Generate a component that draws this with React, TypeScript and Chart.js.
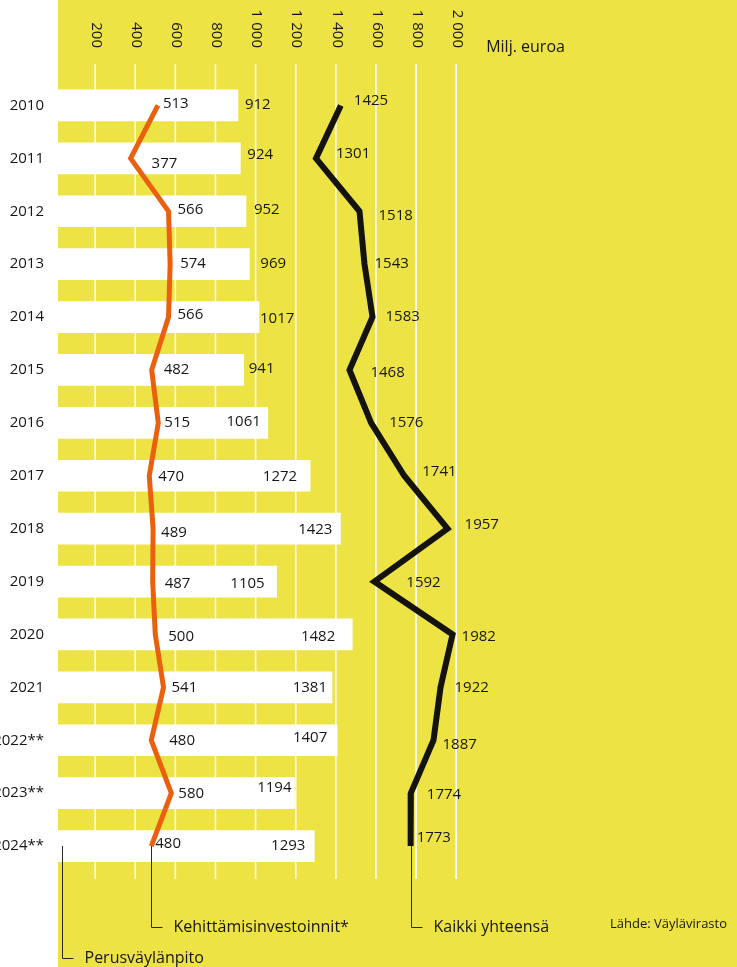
import React, { useEffect, useRef } from 'react';
import { Chart, registerables } from 'chart.js';

Chart.register(...registerables);

// ---- data ----
const years = ['2010', '2011', '2012', '2013', '2014', '2015', '2016', '2017', '2018', '2019', '2020', '2021', '2022**', '2023**', '2024**'];
const perusvaylanpito = [912, 924, 952, 969, 1017, 941, 1061, 1272, 1423, 1105, 1482, 1381, 1407, 1194, 1293];
const kehittamisinvestoinnit = [513, 377, 566, 574, 566, 482, 515, 470, 489, 487, 500, 541, 480, 580, 480];
const kaikkiYhteensa = [1425, 1301, 1518, 1543, 1583, 1468, 1576, 1741, 1957, 1592, 1982, 1922, 1887, 1774, 1773];
const gridValues = [200, 400, 600, 800, 1000, 1200, 1400, 1600, 1800, 2000];
const gridLabels = ['200', '400', '600', '800', '1 000', '1 200', '1 400', '1 600', '1 800', '2 000'];
const unitLabel = 'Milj. euroa';
const sourceLabel = 'Lähde: Väylävirasto';
const seriesNames = ['Perusväylänpito', 'Kehittämisinvestoinnit*', 'Kaikki yhteensä'];

// ---- label placement (styling, px offsets from the mark) ----
const barLabelDx = [7, 7, 8, 11, 1, 5, -7, -13, -8, -12, -17, -5, -10, -3, -9];
const barLabelDy = [-1, -4, -2, 0, 2, -1, -1, 1, 1, 2, 2, 0, -3, -5, 0];
const orangeLabelDx = [5, 21, 9, 10, 9, 12, 6, 9, 8, 12, 13, 8, 18, 7, 4];
const orangeLabelDy = [-2, 5, -2, 0, -2, 0, 0, 1, 4, 2, 2, 0, 0, 1, -2];
const blackLabelDx = [13, 20, 19, 10, 13, 21, 18, 18, 17, 32, 9, 14, 9, 16, 6];
const blackLabelDy = [-5, -5, 4, 0, 0, 3, 0, -4, -4, 1, 2, 0, 4, 2, -8];

const YELLOW = '#EEE345';
const ORANGE = '#EA600E';
const BLACK = '#15130F';
const TEXT = '#161616';
const FONT = '"Open Sans", "Noto Sans", sans-serif';

const bgPlugin = {
  id: 'bgPlugin',
  beforeDraw(chart: any) {
    const ctx = chart.ctx;
    const xs = chart.scales.x;
    ctx.save();
    ctx.fillStyle = '#ffffff';
    ctx.fillRect(0, 0, chart.width, chart.height);
    ctx.fillStyle = YELLOW;
    const left = xs.getPixelForValue(0) + 3;
    ctx.fillRect(left, 0, chart.width - left, chart.height);
    ctx.restore();
  },
};

const gridPlugin = {
  id: 'gridPlugin',
  beforeDatasetsDraw(chart: any) {
    const ctx = chart.ctx;
    const xs = chart.scales.x;
    const area = chart.chartArea;
    ctx.save();
    ctx.strokeStyle = '#ffffff';
    ctx.lineWidth = 1.5;
    gridValues.forEach((v) => {
      const x = xs.getPixelForValue(v);
      ctx.beginPath();
      ctx.moveTo(x, area.top - 15);
      ctx.lineTo(x, area.bottom + 6.5);
      ctx.stroke();
    });
    // rotated tick labels on top
    ctx.fillStyle = TEXT;
    ctx.font = `15px ${FONT}`;
    ctx.textAlign = 'right';
    ctx.textBaseline = 'middle';
    gridValues.forEach((v, i) => {
      const x = xs.getPixelForValue(v);
      ctx.save();
      ctx.translate(x + 1, area.top - 31);
      ctx.rotate(Math.PI / 2);
      ctx.fillText(gridLabels[i], 0, 0);
      ctx.restore();
    });
    ctx.textAlign = 'left';
    ctx.font = `16px ${FONT}`;
    ctx.fillText(unitLabel, xs.getPixelForValue(2000) + 30, area.top - 32);
    ctx.restore();
  },
};

const labelPlugin = {
  id: 'labelPlugin',
  afterDatasetsDraw(chart: any) {
    const ctx = chart.ctx;
    const xs = chart.scales.x;
    const ys = chart.scales.y;
    const orangeMeta = chart.getDatasetMeta(1);
    const blackMeta = chart.getDatasetMeta(2);
    ctx.save();
    ctx.fillStyle = TEXT;
    ctx.font = `15px ${FONT}`;
    ctx.textBaseline = 'middle';
    perusvaylanpito.forEach((v, i) => {
      const end = xs.getPixelForValue(v);
      const y = ys.getPixelForValue(i) + barLabelDy[i];
      const dx = barLabelDx[i];
      ctx.textAlign = dx < 0 ? 'right' : 'left';
      ctx.fillText(String(v), end + dx, y);
    });
    ctx.textAlign = 'left';
    kehittamisinvestoinnit.forEach((v, i) => {
      const p = orangeMeta.data[i];
      ctx.fillText(String(v), p.x + orangeLabelDx[i], p.y + orangeLabelDy[i]);
    });
    kaikkiYhteensa.forEach((v, i) => {
      const p = blackMeta.data[i];
      ctx.fillText(String(v), p.x + blackLabelDx[i], p.y + blackLabelDy[i]);
    });
    ctx.restore();
  },
  afterDraw(chart: any) {
    const ctx = chart.ctx;
    const xs = chart.scales.x;
    const ys = chart.scales.y;
    const last = years.length - 1;
    const yLast = ys.getPixelForValue(last);
    const orangeLast = chart.getDatasetMeta(1).data[last];
    const blackLast = chart.getDatasetMeta(2).data[last];
    ctx.save();
    ctx.strokeStyle = '#2a2a2a';
    ctx.lineWidth = 1;
    ctx.fillStyle = TEXT;
    ctx.font = `16px ${FONT}`;
    ctx.textBaseline = 'middle';
    ctx.textAlign = 'left';
    const callout = (x: number, yEnd: number, text: string) => {
      const xx = Math.round(x) + 0.5;
      const yy = Math.round(yEnd) + 0.5;
      ctx.beginPath();
      ctx.moveTo(xx, yLast);
      ctx.lineTo(xx, yy);
      ctx.lineTo(xx + 11, yy);
      ctx.stroke();
      ctx.fillText(text, xx + 22, yy);
    };
    callout(xs.getPixelForValue(0) + 7, chart.height - 9, seriesNames[0]);
    callout(orangeLast.x, chart.height - 40, seriesNames[1]);
    callout(blackLast.x, chart.height - 40, seriesNames[2]);
    ctx.font = `13px ${FONT}`;
    ctx.textAlign = 'right';
    ctx.fillText(sourceLabel, chart.width - 10, chart.height - 43);
    ctx.restore();
  },
};

export default function App() {
  const canvasRef = useRef<HTMLCanvasElement | null>(null);

  useEffect(() => {
    document.body.style.margin = '0';
    const canvas = canvasRef.current;
    if (!canvas) return;
    const chart = new Chart(canvas, {
      type: 'bar',
      data: {
        labels: years,
        datasets: [
          {
            type: 'bar',
            label: seriesNames[0],
            data: perusvaylanpito,
            backgroundColor: '#ffffff',
            borderWidth: 0,
            barThickness: 31,
            order: 3,
          } as any,
          {
            type: 'line',
            label: seriesNames[1],
            data: kehittamisinvestoinnit,
            borderColor: ORANGE,
            borderWidth: 5,
            pointRadius: 0,
            borderJoinStyle: 'miter',
            borderCapStyle: 'butt',
            tension: 0,
            fill: false,
            order: 2,
          } as any,
          {
            type: 'line',
            label: seriesNames[2],
            data: kaikkiYhteensa,
            borderColor: BLACK,
            borderWidth: 6,
            pointRadius: 0,
            borderJoinStyle: 'miter',
            borderCapStyle: 'butt',
            tension: 0,
            fill: false,
            order: 1,
          } as any,
        ],
      },
      options: {
        indexAxis: 'y',
        responsive: false,
        animation: false,
        devicePixelRatio: 1,
        layout: { padding: { top: 79, bottom: 94.5, left: 0, right: 0 } },
        plugins: {
          legend: { display: false },
          tooltip: { enabled: false },
        },
        scales: {
          x: { type: 'linear', min: 0, max: 3400, display: false },
          y: {
            type: 'category',
            offset: true,
            grid: { display: false, drawTicks: false },
            border: { display: false },
            ticks: {
              color: TEXT,
              font: { family: FONT, size: 15 },
              padding: 11,
            },
            afterFit(scale: any) {
              scale.width = 55;
            },
          },
        },
      } as any,
      plugins: [bgPlugin, gridPlugin, labelPlugin],
    });
    return () => chart.destroy();
  }, []);

  return (
    <canvas
      ref={canvasRef}
      width={737}
      height={967}
      style={{ display: 'block', width: 737, height: 967 }}
    />
  );
}
